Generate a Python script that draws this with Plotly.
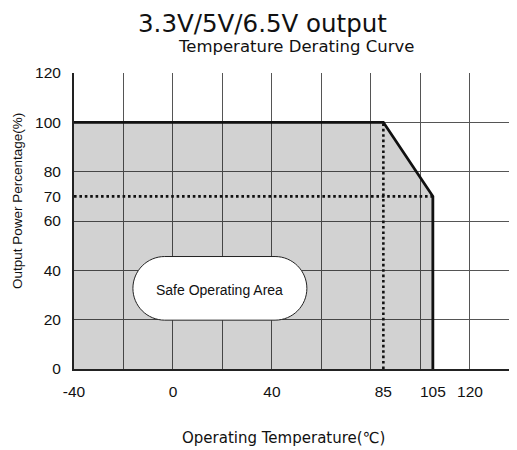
import plotly.graph_objects as go

# ---- data ----
temp_curve = [-40, 85, 105, 105]
power_curve = [100, 100, 70, 0]
derate_start_temp = 85
derate_end_temp = 105
derate_end_power = 70

x_grid = [-40, -20, 0, 20, 40, 60, 80, 100, 120]
y_grid = [0, 20, 40, 60, 80, 100, 120]
x_tick_vals = [-40, 0, 40, 85, 105, 120]
x_tick_text = ["-40", "0", "40", "85", "105", "120"]
y_tick_vals = [0, 20, 40, 60, 70, 80, 100, 120]
y_tick_text = ["0", "20", "40", "60", "70", "80", "100", "120"]

X_RANGE = [-40, 139]
Y_RANGE = [0, 120]

OFF = 8  # page body margin
W, H = 517, 450
ML, MT = 74 - OFF, 73 - OFF
PW, PH = 443, 296
MR = W - ML - PW
MB = H - MT - PH

fig = go.Figure()

# gray safe area (semi-transparent so gridlines show through)
fill_x = [temp_curve[0]] + temp_curve + [temp_curve[0]]
fill_y = [0] + power_curve + [0]
fig.add_trace(go.Scatter(x=fill_x, y=fill_y, fill="toself", mode="none",
                         fillcolor="rgba(0,0,0,0.175)", hoverinfo="skip",
                         showlegend=False))

dot = "2.6px,2.8px"
# dotted guides
fig.add_trace(go.Scatter(x=[derate_start_temp, derate_start_temp], y=[0, power_curve[1]],
                         mode="lines", line=dict(color="#111", width=2.6, dash=dot),
                         showlegend=False))
fig.add_trace(go.Scatter(x=[temp_curve[0], derate_end_temp], y=[derate_end_power, derate_end_power],
                         mode="lines", line=dict(color="#111", width=2.6, dash=dot),
                         showlegend=False))
# derating curve
fig.add_trace(go.Scatter(x=temp_curve, y=power_curve, mode="lines",
                         line=dict(color="#111", width=2.8), showlegend=False))

# label overlay axes trace (invisible)
fig.add_trace(go.Scatter(x=[None], y=[None], xaxis="x2", yaxis="y2", showlegend=False))

# stadium label box
sx0, sx1, sy0, sy1 = -16.2, 54.1, 19.8, 45.6
xs = (X_RANGE[1] - X_RANGE[0]) / PW  # data units per px
ys = (Y_RANGE[1] - Y_RANGE[0]) / PH
r_px = (sy1 - sy0) / ys / 2
rx, ry = r_px * xs, r_px * ys
k = 0.5523
cy = (sy0 + sy1) / 2
a, b = sx0 + rx, sx1 - rx
path = (f"M {a},{sy1} L {b},{sy1} "
        f"C {b + k*rx},{sy1} {sx1},{cy + k*ry} {sx1},{cy} "
        f"C {sx1},{cy - k*ry} {b + k*rx},{sy0} {b},{sy0} "
        f"L {a},{sy0} "
        f"C {a - k*rx},{sy0} {sx0},{cy - k*ry} {sx0},{cy} "
        f"C {sx0},{cy + k*ry} {a - k*rx},{sy1} {a},{sy1} Z")
fig.add_shape(type="path", path=path, xref="x", yref="y", fillcolor="white",
              line=dict(color="#222", width=1), layer="above")

fig.add_annotation(x=(sx0 + sx1) / 2, y=cy - 0.8, xref="x", yref="y", text="Safe Operating Area",
                   showarrow=False, xanchor="center", yanchor="middle",
                   font=dict(family="Liberation Sans", size=14, color="#111"))

# titles (positions given in screen pixels)
def px2paper(px, py):
    return (px - OFF - ML) / PW, (H - MB - (py - OFF)) / PH

def label(px, py, text, font, angle=0):
    tx, ty = px2paper(px, py)
    fig.add_annotation(x=tx, y=ty, xref="paper", yref="paper", text=text,
                       showarrow=False, xanchor="center", yanchor="middle",
                       borderpad=0, textangle=angle, font=font)

label(262, 23, "3.3V/5V/6.5V output", dict(family="DejaVu Sans", size=24.5, color="#111"))
label(296, 47, "Temperature Derating Curve", dict(family="DejaVu Sans", size=16.5, color="#111"))
label(283, 438, "Operating Temperature(℃)", dict(family="DejaVu Sans", size=15, color="#111"))
label(17, 201, "Output Power Percentage(%)", dict(family="Liberation Sans", size=13.5, color="#111"), -90)

tickfont = dict(family="Liberation Sans", size=15.5, color="#111")
fig.update_layout(
    width=W, height=H, margin=dict(l=ML, r=MR, t=MT, b=MB),
    paper_bgcolor="white", plot_bgcolor="white", showlegend=False,
    xaxis=dict(range=X_RANGE, tickmode="array", tickvals=x_grid, showticklabels=False,
               showgrid=True, gridcolor="#555", gridwidth=1, zeroline=False,
               showline=True, linecolor="#222", linewidth=1.5, ticks=""),
    yaxis=dict(range=Y_RANGE, tickmode="array", tickvals=y_grid, showticklabels=False,
               showgrid=True, gridcolor="#555", gridwidth=1, zeroline=False,
               showline=True, linecolor="#222", linewidth=1.5, ticks=""),
    xaxis2=dict(overlaying="x", anchor="y", side="bottom", range=X_RANGE,
                tickmode="array", tickvals=x_tick_vals, ticktext=x_tick_text,
                showgrid=False, zeroline=False, showline=False,
                ticks="outside", ticklen=8, tickcolor="rgba(0,0,0,0)", tickfont=tickfont),
    yaxis2=dict(overlaying="y", anchor="x", side="left", range=Y_RANGE,
                tickmode="array", tickvals=y_tick_vals, ticktext=y_tick_text,
                showgrid=False, zeroline=False, showline=False,
                ticks="outside", ticklen=9, tickcolor="rgba(0,0,0,0)", tickfont=tickfont),
)

fig.write_html("out.html")
